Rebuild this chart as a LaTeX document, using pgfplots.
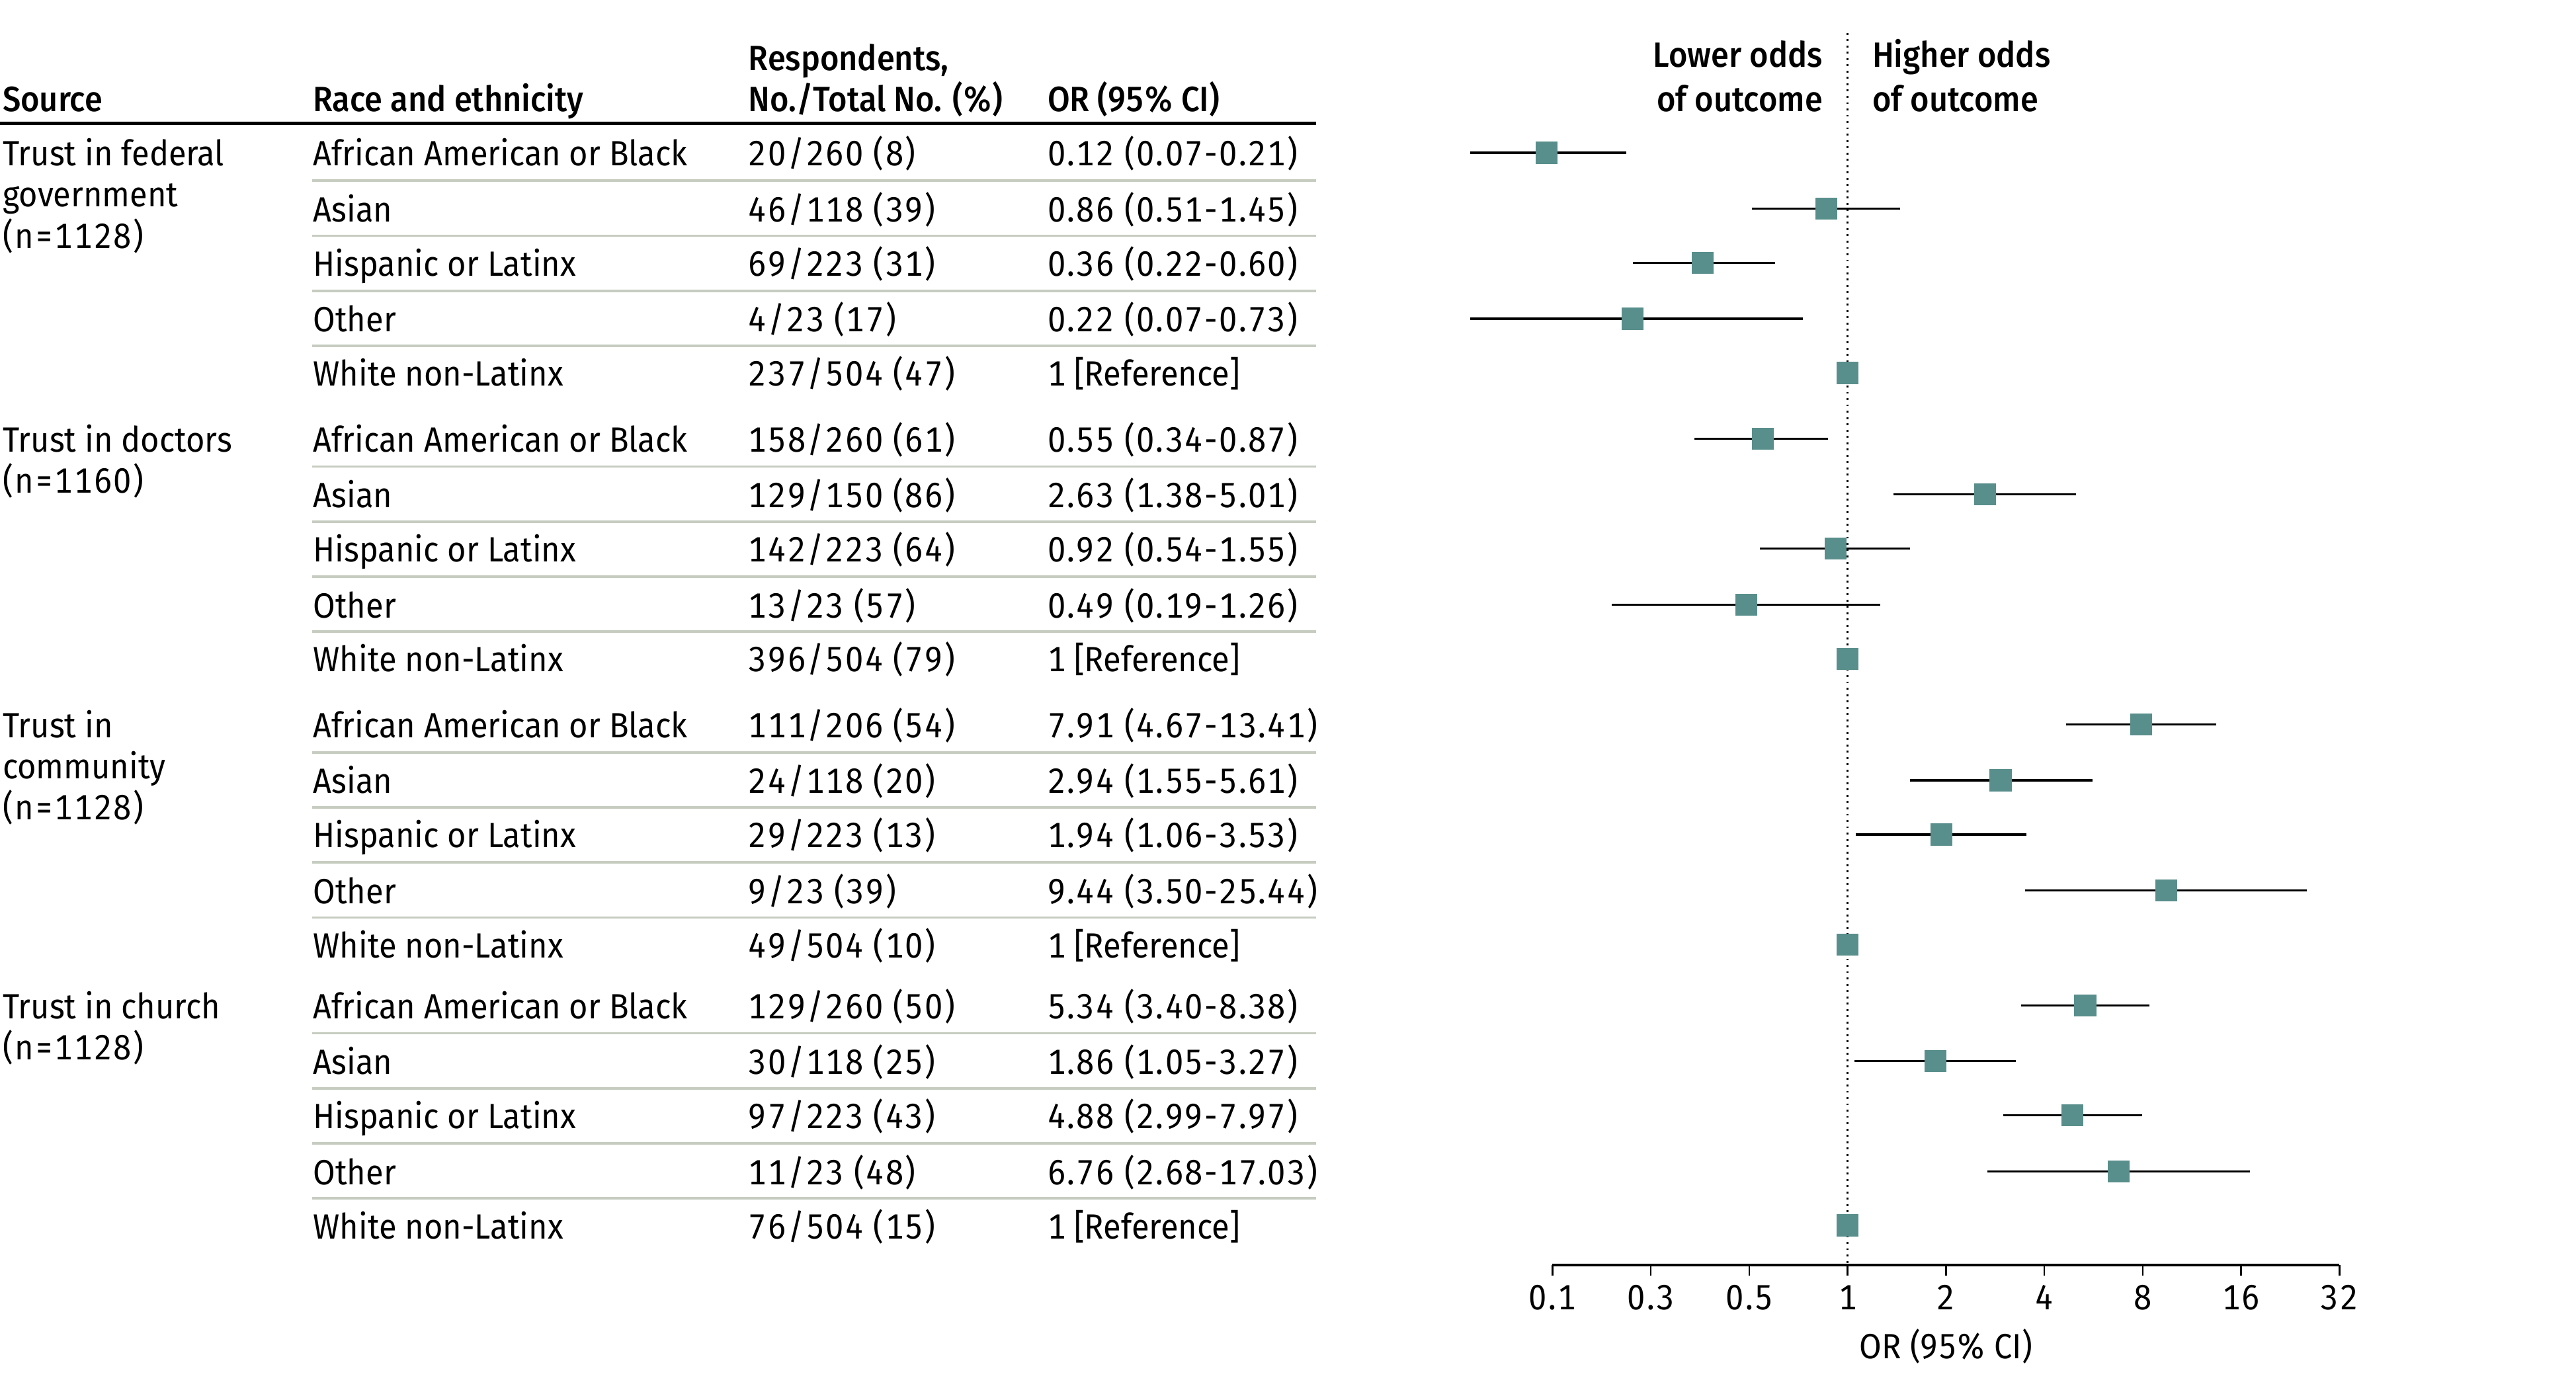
\documentclass[border=0pt]{standalone}
\usepackage{fontspec}
\setmainfont{Fira Sans}[BoldFont={Fira Sans Medium}, Numbers=Monospaced, FakeStretch=0.92]
\usepackage{pgfplots}
\pgfplotsset{compat=1.18}
\usepackage{pgfplotstable}
\definecolor{mk}{RGB}{88,142,139}
\definecolor{rl}{RGB}{198,204,192}
\newcommand{\fs}{\fontsize{6.4}{7.6}\selectfont}
\newcommand{\nf}{\addfontfeature{LetterSpace=4.5}}

% OR point estimates (y = row position, px from top, negated)
\pgfplotstableread{
or y
0.12 -93
0.86 -127
0.36 -160
0.22 -194
1 -227
0.55 -267
2.63 -301
0.92 -334
0.49 -368
1 -401
7.91 -441
2.94 -475
1.94 -508
9.44 -542
1 -575
5.34 -612
1.86 -646
4.88 -679
6.76 -713
1 -746
}\points

% 95% CI segments
\pgfplotstableread{
x y
0.07 -93
0.21 -93
nan nan
0.51 -127
1.45 -127
nan nan
0.22 -160
0.60 -160
nan nan
0.07 -194
0.73 -194
nan nan
0.34 -267
0.87 -267
nan nan
1.38 -301
5.01 -301
nan nan
0.54 -334
1.55 -334
nan nan
0.19 -368
1.26 -368
nan nan
4.67 -441
13.41 -441
nan nan
1.55 -475
5.61 -475
nan nan
1.06 -508
3.53 -508
nan nan
3.50 -542
25.44 -542
nan nan
3.40 -612
8.38 -612
nan nan
1.05 -646
3.27 -646
nan nan
2.99 -679
7.97 -679
nan nan
2.68 -713
17.03 -713
}\cis

\newcommand{\row}[4]{%
  \node[txt] at (190,#1) {#2};
  \node[txt] at (455,#1) {\nf #3};
  \node[txt] at (637,#1) {\nf #4};}
\newcommand{\refrow}[2]{%
  \node[txt] at (190,#1) {White non-Latinx};
  \node[txt] at (455,#1) {\nf #2};
  \node[txt] at (637,#1) {1 [Reference]};}

\begin{document}
\begin{tikzpicture}
\useasboundingbox (0,0) rectangle (470.4pt,-254.1pt);
\begin{scope}[x=0.3pt,y=-0.3pt,
  txt/.style={anchor=base west, inner sep=0pt, font=\fs},
  txr/.style={anchor=base east, inner sep=0pt, font=\fs}]
  \draw[line width=0.6pt] (0,75) -- (801,75);
  % row rules
  \foreach \y in {110,143.5,177,210.5,284,317.5,351,384.5,458,491.5,525,558.5,629,662.5,696,729.5}
    \draw[rl, line width=0.45pt] (190,\y) -- (801,\y);
 \begin{scope}[yshift=-0.6pt]
  % header
  \node[txt] at (1,66) {\bfseries Source};
  \node[txt] at (190,66) {\bfseries Race and ethnicity};
  \node[txt] at (455,41) {\bfseries Respondents,};
  \node[txt] at (455,66) {\bfseries No./Total No. (\%)};
  \node[txt] at (637,66) {\bfseries OR (95\% CI)};
  % group labels
  \node[txt] at (1,99) {Trust in federal};
  \node[txt] at (1,124) {government};
  \node[txt] at (1,149) {\nf(n=1128)};
  \node[txt] at (1,273) {Trust in doctors};
  \node[txt] at (1,298) {\nf(n=1160)};
  \node[txt] at (1,447) {Trust in};
  \node[txt] at (1,472) {community};
  \node[txt] at (1,497) {\nf(n=1128)};
  \node[txt] at (1,618) {Trust in church};
  \node[txt] at (1,643) {\nf(n=1128)};
  % rows
  \row{99}{African American or Black}{20/260 (8)}{0.12 (0.07-0.21)}
  \row{133}{Asian}{46/118 (39)}{0.86 (0.51-1.45)}
  \row{166}{Hispanic or Latinx}{69/223 (31)}{0.36 (0.22-0.60)}
  \row{200}{Other}{4/23 (17)}{0.22 (0.07-0.73)}
  \refrow{233}{237/504 (47)}
  \row{273}{African American or Black}{158/260 (61)}{0.55 (0.34-0.87)}
  \row{307}{Asian}{129/150 (86)}{2.63 (1.38-5.01)}
  \row{340}{Hispanic or Latinx}{142/223 (64)}{0.92 (0.54-1.55)}
  \row{374}{Other}{13/23 (57)}{0.49 (0.19-1.26)}
  \refrow{407}{396/504 (79)}
  \row{447}{African American or Black}{111/206 (54)}{7.91 (4.67-13.41)}
  \row{481}{Asian}{24/118 (20)}{2.94 (1.55-5.61)}
  \row{514}{Hispanic or Latinx}{29/223 (13)}{1.94 (1.06-3.53)}
  \row{548}{Other}{9/23 (39)}{9.44 (3.50-25.44)}
  \refrow{581}{49/504 (10)}
  \row{618}{African American or Black}{129/260 (50)}{5.34 (3.40-8.38)}
  \row{652}{Asian}{30/118 (25)}{1.86 (1.05-3.27)}
  \row{685}{Hispanic or Latinx}{97/223 (43)}{4.88 (2.99-7.97)}
  \row{719}{Other}{11/23 (48)}{6.76 (2.68-17.03)}
  \refrow{752}{76/504 (15)}
  % direction labels
  \node[txr] at (1110,39) {\bfseries Lower odds};
  \node[txr] at (1110,66) {\bfseries of outcome};
  \node[txt] at (1139,39) {\bfseries Higher odds};
  \node[txt] at (1139,66) {\bfseries of outcome};
 \end{scope}
\end{scope}
\begin{axis}[
  at={(283.5pt,-231pt)}, anchor=south west,
  width=143.7pt, height=225pt, scale only axis,
  xmode=log, log basis x=2, xmin=0.125, xmax=32,
  ymin=-770, ymax=-20,
  axis x line*=bottom, axis y line=none,
  xtick={0.125,0.25,0.5,1,2,4,8,16,32},
  xticklabels={0.1,0.3,0.5,1,2,4,8,16,32},
  minor xtick={},
  tick align=outside, major tick length=2pt,
  xtick style={black, line width=0.3pt},
  axis line style={black, line width=0.45pt},
  xticklabel style={font=\fs\nf, yshift=1.8pt},
  xlabel={OR (95\% CI)}, xlabel style={font=\fs, yshift=3.5pt},
  clip=false,
]
\addplot[black, line width=0.35pt, dash pattern=on 0.35pt off 0.8pt] coordinates {(1,-20) (1,-770)};
\addplot[black, line width=0.4pt, unbounded coords=jump] table[x=x,y=y] {\cis};
\addplot[only marks, mark=square*, mark size=1.95pt, mark options={fill=mk, draw=mk, line width=0pt}] table[x=or,y=y] {\points};
\end{axis}
\end{tikzpicture}
\end{document}
